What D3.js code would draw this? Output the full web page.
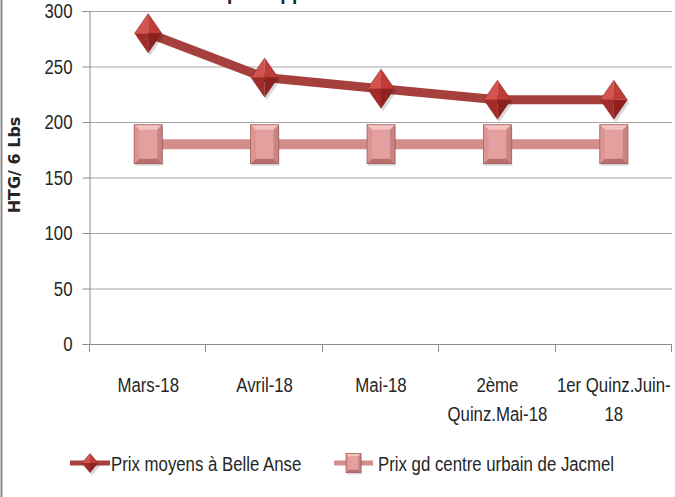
<!DOCTYPE html>
<html>
<head>
<meta charset="utf-8">
<script src="https://cdn.jsdelivr.net/npm/d3@7"></script>
<style>
body { margin: 0; background: #fff; }
svg { display: block; }
text { font-family: "Liberation Sans", Arial, sans-serif; fill: #262626; }
</style>
</head>
<body>
<script>
var categories = ["Mars-18", "Avril-18", "Mai-18", "2ème Quinz.Mai-18", "1er Quinz.Juin-18"];
var tickLines = [["Mars-18"], ["Avril-18"], ["Mai-18"], ["2ème", "Quinz.Mai-18"], ["1er Quinz.Juin-", "18"]];
var belleAnse = [280, 240, 230, 220, 220];
var jacmel = [180, 180, 180, 180, 180];
var yTicks = [0, 50, 100, 150, 200, 250, 300];
var seriesNames = ["Prix moyens à Belle Anse", "Prix gd centre urbain de Jacmel"];
var yTitle = "HTG/ 6 Lbs";
var chartTitle = "Riz local par rapport à Jacmel";

var width = 675, height = 497;
var plot = {left: 90, right: 672, top: 11, bottom: 344};
var squeeze = 0.8; // narrow look of the original font
var fontSize = "21px";

var svg = d3.select("body").append("svg")
    .attr("width", width)
    .attr("height", height);

svg.append("rect")
    .attr("width", width)
    .attr("height", height)
    .attr("fill", "#fff");

// frame edge on the left
svg.append("line")
    .attr("x1", 1.5).attr("x2", 1.5)
    .attr("y1", 0).attr("y2", height)
    .attr("stroke", "#8c8c8c")
    .attr("stroke-width", 2);

var x = d3.scaleBand()
    .domain(categories)
    .range([plot.left, plot.right]);

var y = d3.scaleLinear()
    .domain([0, 300])
    .range([plot.bottom, plot.top]);

function narrow(sel, px) {
    sel.attr("x", 0)
        .attr("transform", "translate(" + px + ",0) scale(" + squeeze + ",1)");
}

// title, mostly cut off by the top edge
var title = svg.append("text")
    .attr("y", -1.5)
    .style("font-size", "24px")
    .style("font-weight", "bold")
    .text(chartTitle);
var idx = chartTitle.indexOf("par rapport");
var off = title.node().getSubStringLength(0, idx) * squeeze;
narrow(title, 227 - off);

// gridlines
svg.append("g")
    .selectAll("line")
    .data(yTicks.filter(function(d) { return d > 0; }))
    .enter()
    .append("line")
    .attr("x1", plot.left - 1)
    .attr("x2", plot.right)
    .attr("y1", function(d) { return y(d) + 0.5; })
    .attr("y2", function(d) { return y(d) + 0.5; })
    .attr("stroke", "#a6a6a6")
    .attr("stroke-width", 1.2);

// y axis
var yAxis = svg.append("g")
    .attr("transform", "translate(" + (plot.left - 0.5) + ",0)")
    .call(d3.axisLeft(y).tickValues(yTicks).tickSize(7).tickPadding(10));
yAxis.select(".domain").attr("stroke", "#8c8c8c");
yAxis.selectAll(".tick line").attr("stroke", "#8c8c8c");
yAxis.selectAll(".tick text")
    .style("font-size", fontSize)
    .style("font-family", null)
    .attr("fill", "#262626")
    .each(function() { narrow(d3.select(this), -17); });

// x axis line and boundary ticks
svg.append("line")
    .attr("x1", plot.left - 1).attr("x2", plot.right)
    .attr("y1", plot.bottom + 0.5).attr("y2", plot.bottom + 0.5)
    .attr("stroke", "#8c8c8c");

var bounds = categories.map(function(d) { return x(d); }).concat([plot.right]);
svg.append("g")
    .selectAll("line")
    .data(bounds)
    .enter()
    .append("line")
    .attr("x1", function(d) { return Math.round(d) - 0.5; })
    .attr("x2", function(d) { return Math.round(d) - 0.5; })
    .attr("y1", plot.bottom)
    .attr("y2", plot.bottom + 8)
    .attr("stroke", "#8c8c8c");

var xLabels = svg.append("g")
    .selectAll("text")
    .data(categories)
    .enter()
    .append("text")
    .attr("text-anchor", "middle")
    .style("font-size", fontSize)
    .attr("y", 392);

xLabels.each(function(d, i) {
    var t = d3.select(this);
    narrow(t, x(d) + x.bandwidth() / 2);
    tickLines[i].forEach(function(line, j) {
        t.append("tspan")
            .attr("x", 0)
            .attr("dy", j === 0 ? 0 : 29)
            .text(line);
    });
});

// y axis title
svg.append("text")
    .attr("transform", "translate(20,165) rotate(-90)")
    .attr("text-anchor", "middle")
    .style("font-family", "'DejaVu Sans', sans-serif")
    .style("font-weight", "bold")
    .style("font-size", "16px")
    .attr("fill", "#000")
    .text(yTitle);

// markers
function drawDiamond(g, w, h) {
    var hw = w / 2, hh = h / 2;
    g.append("polygon")
        .attr("points", [[2, -hh + 3], [hw + 2, 3], [2, hh + 3], [-hw + 2, 3]].join(" "))
        .attr("fill", "#000").attr("opacity", 0.15);
    var facets = [
        {p: [[0, -hh], [-hw, 0], [0, 0]], c: "#d2534f"},
        {p: [[0, -hh], [hw, 0], [0, 0]], c: "#c03c37"},
        {p: [[-hw, 0], [0, hh], [0, 0]], c: "#a32c29"},
        {p: [[hw, 0], [0, hh], [0, 0]], c: "#8c211f"}
    ];
    facets.forEach(function(f) {
        g.append("polygon")
            .attr("points", f.p.join(" "))
            .attr("fill", f.c);
    });
    g.append("polygon")
        .attr("points", [[0, -hh], [hw, 0], [0, hh], [-hw, 0]].join(" "))
        .attr("fill", "none")
        .attr("stroke", "#8a2a27")
        .attr("stroke-width", 0.6);
}

function drawSquare(g, w, h) {
    var hw = w / 2, hh = h / 2, b = Math.max(2, w * 0.18);
    g.append("rect")
        .attr("x", -hw + 1).attr("y", -hh + 2)
        .attr("width", w).attr("height", h)
        .attr("fill", "#000").attr("opacity", 0.15);
    g.append("rect")
        .attr("x", -hw).attr("y", -hh)
        .attr("width", w).attr("height", h)
        .attr("fill", "#e3a09e");
    // bevels
    g.append("polygon")
        .attr("points", [[-hw, -hh], [hw, -hh], [hw - b, -hh + b], [-hw + b, -hh + b]].join(" "))
        .attr("fill", "#f3c3c1");
    g.append("polygon")
        .attr("points", [[-hw, hh], [hw, hh], [hw - b, hh - b], [-hw + b, hh - b]].join(" "))
        .attr("fill", "#b86e6c");
    g.append("polygon")
        .attr("points", [[-hw, -hh], [-hw + b, -hh + b], [-hw + b, hh - b], [-hw, hh]].join(" "))
        .attr("fill", "#dc9593");
    g.append("polygon")
        .attr("points", [[hw, -hh], [hw - b, -hh + b], [hw - b, hh - b], [hw, hh]].join(" "))
        .attr("fill", "#c98381");
    g.append("rect")
        .attr("x", -hw).attr("y", -hh)
        .attr("width", w).attr("height", h)
        .attr("fill", "none")
        .attr("stroke", "#a0605e")
        .attr("stroke-width", 0.8);
}

var line = d3.line()
    .x(function(d, i) { return x(categories[i]) + x.bandwidth() / 2; })
    .y(function(d) { return y(d); });

// Jacmel series
svg.append("path")
    .datum(jacmel)
    .attr("d", line)
    .attr("fill", "none")
    .attr("stroke", "#d38d8b")
    .attr("stroke-width", 10);

svg.append("g")
    .selectAll("g")
    .data(jacmel)
    .enter()
    .append("g")
    .attr("transform", function(d, i) {
        return "translate(" + (x(categories[i]) + x.bandwidth() / 2) + "," + y(d) + ")";
    })
    .each(function() { drawSquare(d3.select(this), 28, 39); });

// Belle Anse series
svg.append("path")
    .datum(belleAnse)
    .attr("d", line)
    .attr("fill", "none")
    .attr("stroke", "#a5403d")
    .attr("stroke-width", 9)
    .attr("stroke-linejoin", "round");

svg.append("g")
    .selectAll("g")
    .data(belleAnse)
    .enter()
    .append("g")
    .attr("transform", function(d, i) {
        return "translate(" + (x(categories[i]) + x.bandwidth() / 2) + "," + y(d) + ")";
    })
    .each(function() { drawDiamond(d3.select(this), 27, 39); });

// legend
var legendY = 463;
var legendItems = [
    {x1: 70, x2: 110, tx: 111, name: seriesNames[0], color: "#a5403d", marker: drawDiamond, mw: 16, mh: 19},
    {x1: 334, x2: 373, tx: 378, name: seriesNames[1], color: "#d38d8b", marker: drawSquare, mw: 15, mh: 19}
];

var legend = svg.append("g")
    .selectAll("g")
    .data(legendItems)
    .enter()
    .append("g");

legend.append("line")
    .attr("x1", function(d) { return d.x1; })
    .attr("x2", function(d) { return d.x2; })
    .attr("y1", legendY)
    .attr("y2", legendY)
    .attr("stroke", function(d) { return d.color; })
    .attr("stroke-width", 5);

legend.append("g")
    .attr("transform", function(d) { return "translate(" + ((d.x1 + d.x2) / 2) + "," + legendY + ")"; })
    .each(function(d) { d.marker(d3.select(this), d.mw, d.mh); });

legend.append("text")
    .attr("y", 471)
    .style("font-size", fontSize)
    .text(function(d) { return d.name; })
    .each(function(d) { narrow(d3.select(this), d.tx); });
</script>
</body>
</html>
